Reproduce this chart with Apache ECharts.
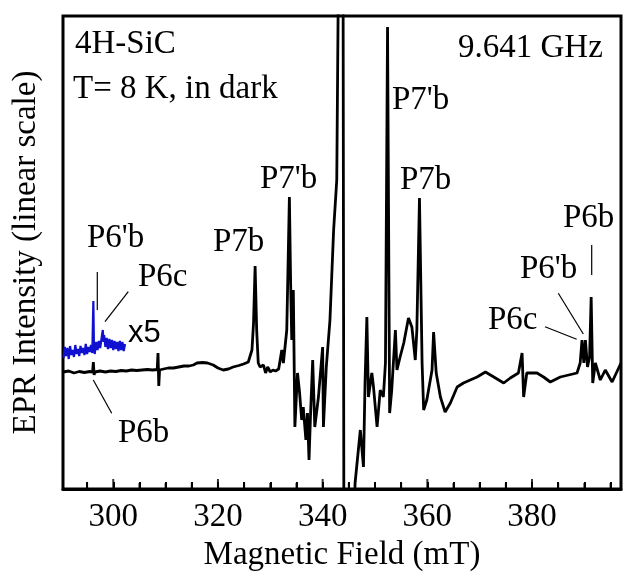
<!DOCTYPE html>
<html>
<head>
<meta charset="utf-8">
<script src="https://cdn.jsdelivr.net/npm/echarts@6/dist/echarts.min.js"></script>
<style>
html,body{margin:0;padding:0;background:#fff;}
#chart{width:623px;height:581px;}
</style>
</head>
<body>
<div id="chart"></div>
<script>
// Magnetic field (mT) and EPR intensity (arb. units, baseline = 0)
const fieldBlack = [
  290.4,291.5,292.5,293.5,294.5,295.5,296.05,296.2,296.35,296.5,297.5,298.5,299.5,300.5,301.5,302.5,303.5,304.5,305.5,306.5,307.5,
  308.4,308.55,308.7,308.85,309.6,310.5,311.5,312.5,313.5,314.5,315.3,316.0,317.0,318.0,319.1,320.0,321.0,322.0,322.9,324.0,324.9,
  325.8,326.5,326.8,327.1,327.4,327.7,328.05,328.4,328.7,329.1,329.5,330.0,330.5,331.0,331.6,332.2,332.5,333.15,333.65,333.9,334.1,
  334.4,334.7,335.2,335.6,336.0,336.3,336.8,337.1,337.4,337.7,338.1,338.5,339.2,340.0,340.15,340.7,341.4,342.1,342.7,343.05,343.9,
  344.1,345.5,346.2,347.2,347.8,348.1,348.45,348.75,349.4,349.7,350.4,351.0,351.6,352.0,352.4,352.8,353.2,353.9,354.2,354.8,355.5,
  356.4,357.05,357.7,358.0,358.5,359.0,359.3,359.9,360.9,361.2,361.7,362.5,363.4,364.4,365.7,366.9,368.2,369.5,371.1,372.7,374.6,
  375.85,377.4,378.1,378.4,379.0,380.95,382.2,383.5,385.4,388.6,389.2,389.55,389.9,390.2,390.6,391.0,391.3,391.6,392.1,393.05,394.0,
  395.3,397.0
];
const intensityBlack = [
  0,1,-1,0.5,-0.5,0.5,0,10,-3,0,1,0,1,0.5,1.5,1,2,1.5,2,2.5,2,
  2.5,19,-14,2,3,4,4,5,6,6,7,9,9.5,9,7,4,2,3,5,6.5,8,
  10,22,49,106,42,9,5,3,7,-1,5,0,2,1,3,22,9,42,175,85,32,
  82,-55,-1,-21,-48,-35,-68,-41,-88,-41,12,-55,-25,25,-55,5,52,142,192,420,420,
  -300,-250,-111,-58,-95,-11,55,-25,-1,-14,-55,-18,-25,9,345,-41,-18,42,2,15,29,
  54,45,12,42,174,9,-38,-28,2,40,-1,-25,-40,-31,-15,-11,-8,-5,0,-5,-11,
  -6,-1,19,-25,-1,-1,-5,-10,-5,-1,9,32,9,32,5,15,75,-11,9,-8,2,
  -10,9
];
// x5 magnified trace (blue)
const fieldBlue = [
  290.5,290.75,291.0,291.25,291.5,291.75,292.0,292.25,292.5,292.75,293.0,293.25,293.5,293.75,294.0,294.25,294.5,294.75,
  295.0,295.25,295.5,295.75,296.0,296.1,296.2,296.3,296.45,296.75,297.0,297.25,297.5,297.75,298.0,298.15,298.25,298.5,
  298.75,299.0,299.25,299.5,299.75,300.0,300.25,300.5,300.75,301.0,301.25,301.5,301.75,302.0,302.25
];
const intensityBlue = [
  14,25,16,24,13,26,17,22,15,27,18,23,16,26,19,24,17,28,
  18,25,20,27,19,45,71,30,18,30,22,31,24,33,42,30,37,25,
  34,23,33,24,32,22,31,23,30,21,31,22,30,21,28
];
const xLabelValues = [300, 320, 340, 360, 380];
const xTickValues = [295,300,305,310,315,320,325,330,335,340,345,350,355,360,365,370,375,380,385,390,395];

const Y_MIN = -117, Y_MAX = 356;          // y axis extent (1 unit = 1 px of plot height)
const MAJOR_LEN = 10, MINOR_LEN = 6;       // tick lengths in px

const serif = '"Liberation Serif", "Times New Roman", serif';
const chart = echarts.init(document.getElementById('chart'), null, {renderer: 'canvas'});

function pairs(xs, ys) { return xs.map((x, i) => [x, ys[i]]); }

function label(text, x, yMid, font) {
  return {type: 'text', x: x, y: yMid, z: 100,
    style: {text: text, font: font || ('33px ' + serif), fill: '#000', align: 'left', verticalAlign: 'middle'}};
}
function leader(x1, y1, x2, y2, w) {
  return {type: 'line', z: 100, shape: {x1: x1, y1: y1, x2: x2, y2: y2}, style: {stroke: '#000', lineWidth: w || 1.2}};
}

const majorTicks = xTickValues.filter(v => xLabelValues.indexOf(v) >= 0).map(v => [v, Y_MIN + MAJOR_LEN / 2]);
const minorTicks = xTickValues.filter(v => xLabelValues.indexOf(v) < 0).map(v => [v, Y_MIN + MINOR_LEN / 2]);

chart.setOption({
  animation: false,
  backgroundColor: '#fff',
  grid: {left: 63, right: 2, top: 16, bottom: 92, show: true, borderColor: '#000', borderWidth: 3},
  xAxis: {
    type: 'value', min: 290.4, max: 397.0, position: 'bottom',
    axisLine: {show: true, onZero: false, lineStyle: {color: '#000', width: 3}},
    axisTick: {show: true, inside: true, length: 7, lineStyle: {color: '#000', width: 2}, customValues: xTickValues},
    axisLabel: {show: true, margin: 12, fontFamily: serif, fontSize: 33, color: '#000', customValues: xLabelValues},
    splitLine: {show: false},
    name: 'Magnetic Field (mT)', nameLocation: 'middle', nameGap: 50,
    nameTextStyle: {fontFamily: serif, fontSize: 33, color: '#000'}
  },
  yAxis: {
    type: 'value', min: Y_MIN, max: Y_MAX,
    axisLine: {show: false, onZero: false}, axisTick: {show: false}, axisLabel: {show: false}, splitLine: {show: false},
    name: 'EPR Intensity (linear scale)', nameLocation: 'middle', nameGap: 20,
    nameTextStyle: {fontFamily: serif, fontSize: 33, color: '#000'}
  },
  series: [{
    type: 'line', data: pairs(fieldBlack, intensityBlack), showSymbol: false, clip: true,
    lineStyle: {color: '#000', width: 2.8}, z: 3
  }, {
    type: 'line', data: pairs(fieldBlue, intensityBlue), showSymbol: false, clip: true,
    lineStyle: {color: '#1010d0', width: 2.2}, z: 4
  }, {
    type: 'scatter', data: majorTicks, symbol: 'rect', symbolSize: [2, MAJOR_LEN], silent: true, clip: false,
    itemStyle: {color: '#000'}, z: 10
  }, {
    type: 'scatter', data: minorTicks, symbol: 'rect', symbolSize: [2, MINOR_LEN], silent: true, clip: false,
    itemStyle: {color: '#000'}, z: 10
  }],
  graphic: [
    label('4H-SiC', 75, 44),
    label('T= 8 K, in dark', 73, 89),
    label('9.641 GHz', 458, 48),
    label("P7'b", 260, 179),
    label("P6'b", 87, 238),
    label('P7b', 213, 242),
    label('P6c', 138, 277),
    label('x5', 128, 333, '31px "Liberation Sans", Arial, sans-serif'),
    label('P6b', 118, 433),
    label("P7'b", 392, 100),
    label('P7b', 400, 180),
    label('P6b', 563, 218),
    label("P6'b", 520, 269),
    label('P6c', 488, 320),
    leader(97.3, 272, 97.3, 310),
    leader(128.3, 291.7, 105, 321.7),
    leader(93.3, 380, 111.7, 413.3),
    leader(591.7, 245, 591.7, 275),
    leader(558.3, 293.3, 583.3, 334),
    leader(545, 326.7, 576.7, 339.3)
  ]
});
</script>
</body>
</html>
